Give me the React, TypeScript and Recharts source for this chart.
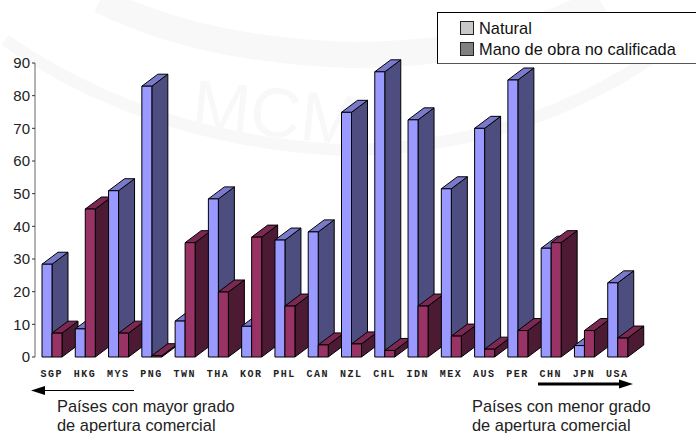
import React from 'react';

import { Bar, BarChart, Legend, XAxis, YAxis } from 'recharts';

const countries = ['SGP', 'HKG', 'MYS', 'PNG', 'TWN', 'THA', 'KOR', 'PHL', 'CAN', 'NZL', 'CHL', 'IDN', 'MEX', 'AUS', 'PER', 'CHN', 'JPN', 'USA'];
const natural = [28.4, 8.6, 50.9, 82.9, 11, 48.4, 9.4, 35.8, 38.3, 74.9, 87.3, 72.6, 51.5, 70, 84.8, 33.3, 3.5, 22.7];
const unskilled = [7.3, 45.3, 7.3, 0.4, 35, 19.9, 36.7, 15.6, 3.7, 4, 2, 15.6, 6.4, 2.4, 8.1, 35, 8.1, 5.8];
const yTicks = [0, 10, 20, 30, 40, 50, 60, 70, 80, 90];

const legendItems = [
  { label: 'Natural', color: '#c8c8c8' },
  { label: 'Mano de obra no calificada', color: '#808080' },
];

const BLUE = { front: '#9999ff', side: '#4d4d80', top: '#7a7acc' };
const WINE = { front: '#993366', side: '#4d1a33', top: '#7a2952' };
const DEPTH_X = 16;
const DEPTH_Y = 12;

const SANS = '"Liberation Sans", Arial, sans-serif';

// one column per country so later countries paint over the sides of earlier ones
const rows = countries.map((name, i) => ({
  name,
  [`natural_${i}`]: natural[i],
  [`unskilled_${i}`]: unskilled[i],
}));

// extruded column: front face, then the top and right faces
const box = (colors: typeof BLUE) => (props: any) => {
  const { x, y, width, height } = props;
  if (!height || height <= 0) return <g />;
  const right = x + width;
  const bottom = y + height;
  return (
    <g stroke="#000" strokeWidth={1} strokeLinejoin="round">
      <path
        d={`M${right},${y} L${right + DEPTH_X},${y - DEPTH_Y} L${right + DEPTH_X},${bottom - DEPTH_Y} L${right},${bottom} Z`}
        fill={colors.side}
      />
      <path
        d={`M${x},${y} L${x + DEPTH_X},${y - DEPTH_Y} L${right + DEPTH_X},${y - DEPTH_Y} L${right},${y} Z`}
        fill={colors.top}
      />
      <rect x={x} y={y} width={width} height={height} fill={colors.front} />
    </g>
  );
};

const blueBox = box(BLUE);
const wineBox = box(WINE);

const LegendBox = () => (
  <div
    style={{
      position: 'relative',
      width: 262,
      height: 52,
      boxSizing: 'border-box',
      background: '#fff',
      borderTop: '1px solid #000',
      borderLeft: '1px solid #000',
      borderBottom: '1px solid #555',
      fontFamily: SANS,
      fontSize: 16.4,
      color: '#111',
    }}
  >
    {legendItems.map((item, i) => (
      <div key={item.label} style={{ position: 'absolute', left: 22, top: 6 + i * 21, height: 18, display: 'flex', alignItems: 'center', whiteSpace: 'nowrap' }}>
        <span style={{ width: 12, height: 12, background: item.color, border: '1px solid #222', marginRight: 5 }} />
        {item.label}
      </div>
    ))}
  </div>
);

const Watermark = () => (
  <svg width={696} height={433} style={{ position: 'absolute', left: 0, top: 0 }}>
    <g fill="none" stroke="#f8f8f8" strokeWidth={12}>
      <path d="M5,40 Q150,140 340,150 Q540,150 690,30" />
      <path d="M100,0 Q200,50 350,55 Q500,55 600,0" strokeWidth={26} />
    </g>
    <text x={190} y={128} fontFamily={SANS} fontSize={70} fill="#f8f8f8" transform="rotate(6 190 128)">
      MCM
    </text>
  </svg>
);

const Notes = () => (
  <svg width={696} height={433} style={{ position: 'absolute', left: 0, top: 0, pointerEvents: 'none' }}>
    <line x1={134} y1={390.5} x2={42} y2={390.5} stroke="#000" strokeWidth={1} />
    <polygon points="31,390.5 45,386 45,395" fill="#000" />
    <line x1={538} y1={384} x2={621} y2={384} stroke="#000" strokeWidth={3} />
    <polygon points="633,384 619,379.5 619,388.5" fill="#000" />
    <g fontFamily={SANS} fontSize={16.4} fill="#222">
      <text x={57} y={411.5}>Países con mayor grado</text>
      <text x={57} y={431}>de apertura comercial</text>
      <text x={472} y={411.5}>Países con menor grado</text>
      <text x={472} y={431}>de apertura comercial</text>
    </g>
  </svg>
);

export default function App() {
  return (
    <div style={{ position: 'absolute', left: 0, top: 0, width: 696, height: 433, overflow: 'hidden', background: '#fff' }}>
      <Watermark />
      <div style={{ position: 'absolute', left: 0, top: 0 }}>
        <BarChart
          width={696}
          height={433}
          data={rows}
          margin={{ top: 63, right: 62, bottom: 46, left: 0 }}
          barSize={10}
          barGap={0}
        >
          <XAxis
            dataKey="name"
            axisLine={false}
            tickLine={false}
            interval={0}
            height={30}
            tick={{ fontFamily: '"Liberation Mono", monospace', fontWeight: 700, fontSize: 10, fill: '#222', letterSpacing: 1.5 }}
            tickMargin={7}
          />
          <YAxis
            domain={[0, 90]}
            ticks={yTicks}
            interval={0}
            width={35}
            axisLine={{ stroke: '#666', strokeWidth: 1 }}
            tickLine={{ stroke: '#333' }}
            tickSize={3}
            tickMargin={2}
            tick={{ fontFamily: SANS, fontSize: 15, fill: '#222' }}
          />
          <Legend
            layout="horizontal"
            verticalAlign="middle"
            content={<LegendBox />}
            wrapperStyle={{ left: 437, top: 12, width: 262, height: 52 }}
          />
          {countries.flatMap((name, i) => [
            <Bar key={`n-${name}`} dataKey={`natural_${i}`} stackId="natural" shape={blueBox} isAnimationActive={false} legendType="none" />,
            <Bar key={`u-${name}`} dataKey={`unskilled_${i}`} stackId="unskilled" shape={wineBox} isAnimationActive={false} legendType="none" />,
          ])}
        </BarChart>
      </div>
      <Notes />
    </div>
  );
}
